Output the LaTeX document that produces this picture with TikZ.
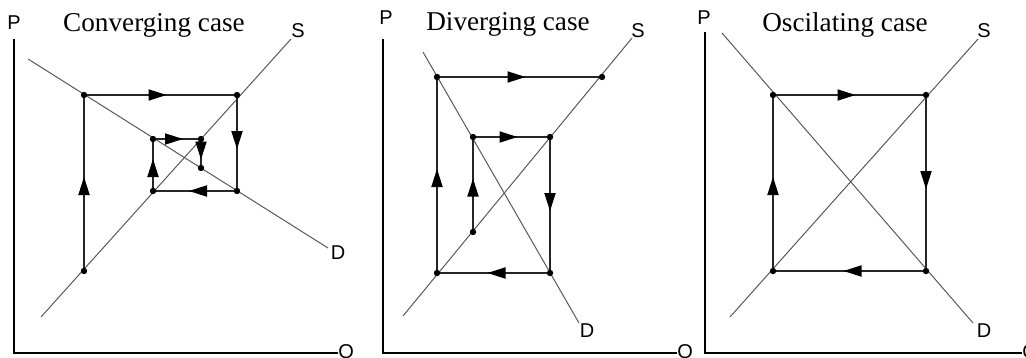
\documentclass[tikz,border=0pt]{standalone}
\usepackage{fontspec}
\setmainfont{Liberation Serif}
\setsansfont{Liberation Sans}
\usetikzlibrary{arrows.meta,decorations.markings}

\tikzset{
  axis/.style={line width=0.7pt},
  curve/.style={line width=0.5pt, black!65},
  cob/.style={line width=0.6pt, black!85, postaction={decorate},
    decoration={markings, mark=at position 0.5 with
      {\arrow[xshift=3pt, black]{Triangle[length=9pt,width=5.6pt]}}}},
  lbl/.style={font=\sffamily\fontsize{10}{11}\selectfont, inner sep=0pt},
  title/.style={font=\fontsize{13.6}{16}\selectfont, inner sep=0pt, anchor=base}
}

\begin{document}
\begin{tikzpicture}[x=0.5pt, y=-0.5pt]
  \useasboundingbox (0,0) rectangle (1026,358);

  % --- Converging case ---
  \coordinate (o1) at (14,353);
  \draw[axis] (14,39) coordinate (p1) -- (o1) -- (338,353) coordinate (q1);
  \node[lbl] (P1) at (14,23) {P};
  \node[lbl, anchor=west] (Q1) at (q1) {Q};
  \node[title] (t1) at (154,32) {Converging case};
  \coordinate (s1a) at (41,317);  \coordinate (s1b) at (291,39);
  \coordinate (d1a) at (28,59);   \coordinate (d1b) at (328,248);
  \draw[curve] (s1a) -- (s1b);
  \draw[curve] (d1a) -- (d1b);
  \node[lbl] (S1) at (298,31) {S};
  \node[lbl] (D1) at (338,253) {D};
  \coordinate (a1) at (84,271);  \coordinate (a2) at (84,95);
  \coordinate (a3) at (237,95);  \coordinate (a4) at (237,191);
  \coordinate (a5) at (153,191); \coordinate (a6) at (153,139);
  \coordinate (a7) at (201,139); \coordinate (a8) at (201,168);
  \draw[cob] (a1) -- (a2);
  \draw[cob] (a2) -- (a3);
  \draw[cob] (a3) -- (a4);
  \draw[cob] (a4) -- (a5);
  \draw[cob] (a5) -- (a6);
  \draw[cob] (a6) -- (a7);
  \draw[cob] (a7) -- (a8);
  \foreach \p in {a1,a2,a3,a4,a5,a6,a7,a8}
    \fill (\p) circle (1.6pt);

  % --- Diverging case ---
  \coordinate (o2) at (383,353);
  \draw[axis] (383,39) coordinate (p2) -- (o2) -- (677,353) coordinate (q2);
  \node[lbl] (P2) at (386,18) {P};
  \node[lbl, anchor=west] (Q2) at (q2) {Q};
  \node[title] (t2) at (508,31) {Diverging case};
  \coordinate (s2a) at (403,316); \coordinate (s2b) at (632,38);
  \coordinate (d2a) at (423,52);  \coordinate (d2b) at (579,323);
  \draw[curve] (s2a) -- (s2b);
  \draw[curve] (d2a) -- (d2b);
  \node[lbl] (S2) at (638,31) {S};
  \node[lbl] (D2) at (587,331) {D};
  \coordinate (b1) at (473,232); \coordinate (b2) at (473,137);
  \coordinate (b3) at (550,137); \coordinate (b4) at (550,273);
  \coordinate (b5) at (437,273); \coordinate (b6) at (437,77);
  \coordinate (b7) at (602,77);
  \draw[cob] (b1) -- (b2);
  \draw[cob] (b2) -- (b3);
  \draw[cob] (b3) -- (b4);
  \draw[cob] (b4) -- (b5);
  \draw[cob] (b5) -- (b6);
  \draw[cob] (b6) -- (b7);
  \foreach \p in {b1,b2,b3,b4,b5,b6,b7}
    \fill (\p) circle (1.6pt);

  % --- Oscilating case ---
  \coordinate (o3) at (705,353);
  \draw[axis] (705,32) coordinate (p3) -- (o3) -- (1022,353) coordinate (q3);
  \node[lbl] (P3) at (704,18) {P};
  \node[lbl, anchor=west] (Q3) at (q3) {Q};
  \node[title] (t3) at (845,32) {Oscilating case};
  \coordinate (s3a) at (730,317); \coordinate (s3b) at (978,39);
  \coordinate (d3a) at (722,33);  \coordinate (d3b) at (973,323);
  \draw[curve] (s3a) -- (s3b);
  \draw[curve] (d3a) -- (d3b);
  \node[lbl] (S3) at (984,31) {S};
  \node[lbl] (D3) at (984,331) {D};
  \coordinate (c1) at (773,271); \coordinate (c2) at (773,95);
  \coordinate (c3) at (926,95);  \coordinate (c4) at (926,271);
  \draw[cob] (c1) -- (c2);
  \draw[cob] (c2) -- (c3);
  \draw[cob] (c3) -- (c4);
  \draw[cob] (c4) -- (c1);
  \foreach \p in {c1,c2,c3,c4}
    \fill (\p) circle (1.6pt);
\end{tikzpicture}
\end{document}
